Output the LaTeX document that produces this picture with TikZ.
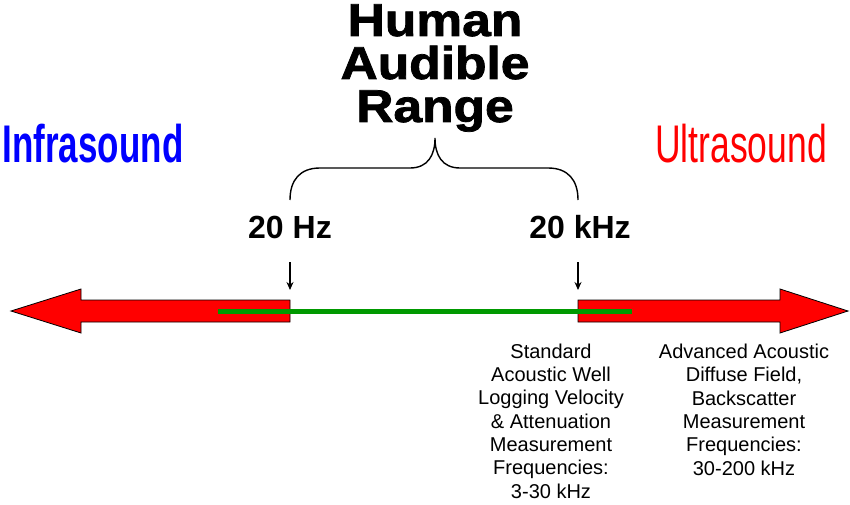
\documentclass[tikz,border=0pt]{standalone}
\usepackage{fontspec}
\setmainfont{Liberation Sans}
\newfontfamily\blackfont[FakeBold=1.6]{Liberation Sans Bold}
\usetikzlibrary{arrows.meta,positioning}
\definecolor{bandgreen}{RGB}{0,153,0}
\newcommand{\widen}[2]{\scalebox{#1}[1]{#2}}

\begin{document}
\begin{tikzpicture}[x=1pt,y=-1pt,
    title/.style={align=center,inner sep=0pt,anchor=base,font=\fontsize{46}{43}\selectfont\blackfont},
    side/.style={inner sep=0pt,anchor=base,font=\fontsize{53}{53}\selectfont},
    freq/.style={inner sep=0pt,anchor=base,font=\fontsize{32}{32}\selectfont\bfseries},
    note/.style={align=center,inner sep=0pt,anchor=base,font=\fontsize{20}{23.3}\selectfont},
    band/.style={draw=black,line width=0.8pt,fill=red,line join=miter},
    tick/.style={-{Stealth[length=8pt,width=7pt]},line width=1.2pt},
    brace/.style={line width=1.4pt}
    ]
    \useasboundingbox (0,0) rectangle (850,505);

    % titles (base = last line)
    \node[title] (range) at (435,122) {\widen{1.12}{Human}\\\widen{1.12}{Audible}\\\widen{1.12}{Range}};
    \node[side,text=blue,font=\fontsize{53}{53}\selectfont\bfseries] (infra) at (93,163) {\widen{0.66}{Infrasound}};
    \node[side,text=red] (ultra) at (741,163) {\widen{0.67}{Ultrasound}};

    % brace over the audible range
    \coordinate (braceL) at (290,200);
    \coordinate (braceR) at (578,200);
    \coordinate (braceT) at (435,138);
    \draw[brace] (braceL) .. controls (290,180) and (300,168) .. (320,168) -- (410,168)
        .. controls (428,168) and (435,155) .. (braceT)
        .. controls (435,155) and (442,168) .. (460,168) -- (548,168)
        .. controls (568,168) and (578,180) .. (braceR);

    % limits
    \node[freq] (low) at (290,238) {20 Hz};
    \node[freq] (high) at (580,238) {20 kHz};
    \coordinate (lowtop) at (290,262);
    \coordinate (lowtip) at (290,290);
    \coordinate (hightop) at (578,262);
    \coordinate (hightip) at (578,290);
    \draw[tick] (lowtop) -- (lowtip);
    \draw[tick] (hightop) -- (hightip);

    % frequency axis
    \draw[band] (290,300) -- (81,300) -- (81,289) -- (11,311) -- (81,333) -- (81,322) -- (290,322) -- cycle;
    \draw[band] (578,300) -- (780,300) -- (780,289) -- (848,311) -- (780,333) -- (780,322) -- (578,322) -- cycle;
    \coordinate (greenL) at (218,311);
    \coordinate (greenR) at (632,311);
    \draw[bandgreen,line width=5pt] (greenL) -- (greenR);

    % applications (base = last line)
    \node[note] (logging) at (551,498) {Standard\\Acoustic Well\\Logging Velocity\\\& Attenuation\\Measurement\\Frequencies:\\3-30 kHz};
    \node[note] (diffuse) at (744,475) {Advanced Acoustic\\Diffuse Field,\\Backscatter\\Measurement\\Frequencies:\\30-200 kHz};

  \end{tikzpicture}
\end{document}
